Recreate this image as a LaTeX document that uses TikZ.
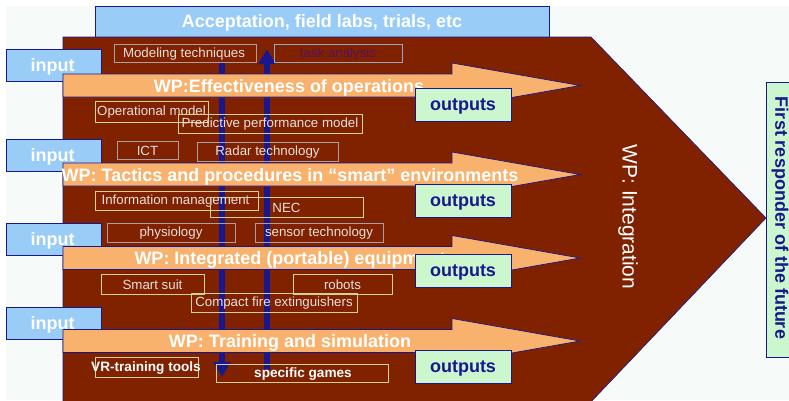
\documentclass[tikz,border=0pt]{standalone}
\usepackage{fontspec}
\setmainfont{Liberation Sans}
\usetikzlibrary{arrows.meta}
\definecolor{wpbrown}{RGB}{128,33,0}
\definecolor{navy}{RGB}{24,24,140}
\definecolor{lblue}{RGB}{153,204,246}
\definecolor{orng}{RGB}{248,178,110}
\definecolor{outgreen}{RGB}{204,247,206}
\definecolor{bgpale}{RGB}{246,250,248}
\definecolor{lighttext}{RGB}{232,224,220}
\definecolor{gbox}{RGB}{168,160,165}
\definecolor{kbox}{RGB}{205,210,150}
\definecolor{bbox}{RGB}{155,165,200}
\definecolor{purp}{RGB}{85,20,90}
\newcommand{\bigbold}{\fontsize{18}{21}\selectfont\bfseries}
\newcommand{\smalltxt}{\fontsize{13.3}{15}\selectfont}
\begin{document}
\begin{tikzpicture}[x=1pt,y=-1pt,
  bluebox/.style={fill=lblue,draw=navy,line width=0.8pt,inner sep=0pt,text=white,font=\bigbold},
  outbox/.style={fill=outgreen,draw=navy,line width=0.8pt,inner sep=0pt,minimum width=96pt,minimum height=33pt,text=navy,font=\bigbold},
  orangearrow/.style={fill=orng,draw=navy,line width=0.7pt},
  wptext/.style={text=white,font=\bigbold,inner sep=0pt},
  tb/.style={draw=#1,line width=0.8pt,inner sep=0pt,text=lighttext,font=\smalltxt},
  lbl/.style={inner sep=0pt},
  bluearrow/.style={draw=navy,line width=6pt,-{Triangle[width=16pt,length=15pt]}}]
\useasboundingbox (0,0) rectangle (789,400);
\clip (0,0) rectangle (789,400);
\fill[white] (0,0) rectangle (789,400);
\fill[bgpale] (6,6) rectangle (789,400);
% title
\node[bluebox,minimum width=454pt,minimum height=31pt] (title) at (322,21.5) {};
\node[lbl,text=white,font=\bigbold] (titletext) at (322,23) {Acceptation, field labs, trials, etc};
% brown pentagon
\filldraw[fill=wpbrown,draw=navy,line width=0.6pt] (63,37) -- (591,37) -- (766,218) -- (588,405) -- (63,405) -- cycle;
% inputs
\foreach \n/\y in {1/65,2/155.5,3/239,4/323}{
  \node[bluebox,minimum width=95pt,minimum height=32pt] (in\n) at (53.5,\y) {};
  \node[lbl,text=white,font=\bigbold] (in\n text) at (52.5,\y+1.5) {input};
}
% vertical arrows
\coordinate (dtop) at (222,62);
\coordinate (dbot) at (222,377);
\coordinate (ubot) at (267,370);
\coordinate (utop) at (267,49);
\draw[bluearrow] (dtop) -- (dbot);
\draw[bluearrow] (ubot) -- (utop);
% orange arrows
\foreach \c in {85.5,174.5,258,341}{
  \draw[orangearrow] (63,\c-11.5) -- (452,\c-11.5) -- (452,\c-22.5) -- (580,\c) -- (452,\c+22.5) -- (452,\c+11.5) -- (63,\c+11.5) -- cycle;
}
\node[wptext] (wp1) at (289,87.5) {WP:Effectiveness of operations};
\node[wptext] (wp2) at (290,176.5) {WP: Tactics and procedures in “smart” environments};
\node[wptext] (wp3) at (290,260) {WP: Integrated (portable) equipment};
\node[wptext] (wp4) at (290,343) {WP: Training and simulation};
% small boxes
\node[tb=gbox,minimum width=142pt,minimum height=18pt] (mod) at (185,53) {};
\node[lbl,text=lighttext,font=\smalltxt] (modt) at (184,54) {Modeling techniques};
\node[tb=bbox,minimum width=128pt,minimum height=18pt] (task) at (338,53) {};
\node[lbl,text=purp,font=\smalltxt] (taskt) at (338,54) {task analysis};
\node[tb=kbox,minimum width=113pt,minimum height=21pt] (opm) at (151.5,111.5) {};
\node[lbl,text=lighttext,font=\smalltxt] (opmt) at (151.5,112) {Operational model};
\node[tb=kbox,minimum width=184pt,minimum height=19pt] (ppm) at (270,123.5) {};
\node[lbl,text=lighttext,font=\smalltxt] (ppmt) at (270,124.5) {Predictive performance model};
\node[tb=gbox,minimum width=61pt,minimum height=18pt] (ict) at (147.5,150) {};
\node[lbl,text=lighttext,font=\smalltxt] (ictt) at (147.5,151) {ICT};
\node[tb=gbox,minimum width=141pt,minimum height=19pt] (radar) at (267.5,151.5) {};
\node[lbl,text=lighttext,font=\smalltxt] (radart) at (267.5,152.5) {Radar technology};
\node[tb=kbox,minimum width=163pt,minimum height=19pt] (info) at (176.5,200.5) {};
\node[lbl,text=lighttext,font=\smalltxt] (infot) at (175.5,201) {Information management};
\node[tb=kbox,minimum width=153pt,minimum height=20pt] (nec) at (286.5,207) {};
\node[lbl,text=lighttext,font=\smalltxt] (nect) at (286.5,208) {NEC};
\node[tb=gbox,minimum width=128pt,minimum height=19pt] (phys) at (171,232.5) {};
\node[lbl,text=lighttext,font=\smalltxt] (physt) at (171,233.5) {physiology};
\node[tb=gbox,minimum width=128pt,minimum height=19pt] (sensor) at (319,232.5) {};
\node[lbl,text=lighttext,font=\smalltxt] (sensort) at (319,233.5) {sensor technology};
\node[tb=kbox,minimum width=103pt,minimum height=20pt] (suit) at (152.5,284) {};
\node[lbl,text=lighttext,font=\smalltxt] (suitt) at (152.5,285) {Smart suit};
\node[tb=kbox,minimum width=99pt,minimum height=20pt] (robots) at (342.5,284) {};
\node[lbl,text=lighttext,font=\smalltxt] (robotst) at (342.5,285) {robots};
\node[tb=kbox,minimum width=166pt,minimum height=19pt] (cfe) at (274,302.5) {};
\node[lbl,text=lighttext,font=\smalltxt] (cfet) at (274,303.5) {Compact fire extinguishers};
\node[tb=kbox,minimum width=103pt,minimum height=20pt] (vr) at (146.5,367) {};
\node[lbl,text=white,font=\fontsize{13.6}{15}\selectfont\bfseries] (vrt) at (146,368) {VR-training tools};
\node[tb=kbox,minimum width=172pt,minimum height=18pt] (games) at (302,373) {};
\node[lbl,text=white,font=\fontsize{13.6}{15}\selectfont\bfseries] (gamest) at (303,374.5) {specific games};
% outputs
\foreach \n/\y in {1/104.5,2/200.5,3/270.5,4/367}{
  \node[outbox] (out\n) at (463,\y) {};
  \node[lbl,text=navy,font=\bigbold] (out\n text) at (463,\y+1.5) {outputs};
}
% integration
\node[rotate=-90,text=white,font=\fontsize{21}{25}\selectfont,inner sep=0pt] (integ) at (628,217) {WP: Integration};
% first responder
\node[fill=outgreen,draw=navy,line width=0.8pt,minimum width=40pt,minimum height=275pt,inner sep=0pt] (frbox) at (786,219.5) {};
\node[rotate=-90,text=navy,font=\bigbold,inner sep=0pt] (frtext) at (780,218) {First responder of the future};
\end{tikzpicture}
\end{document}
